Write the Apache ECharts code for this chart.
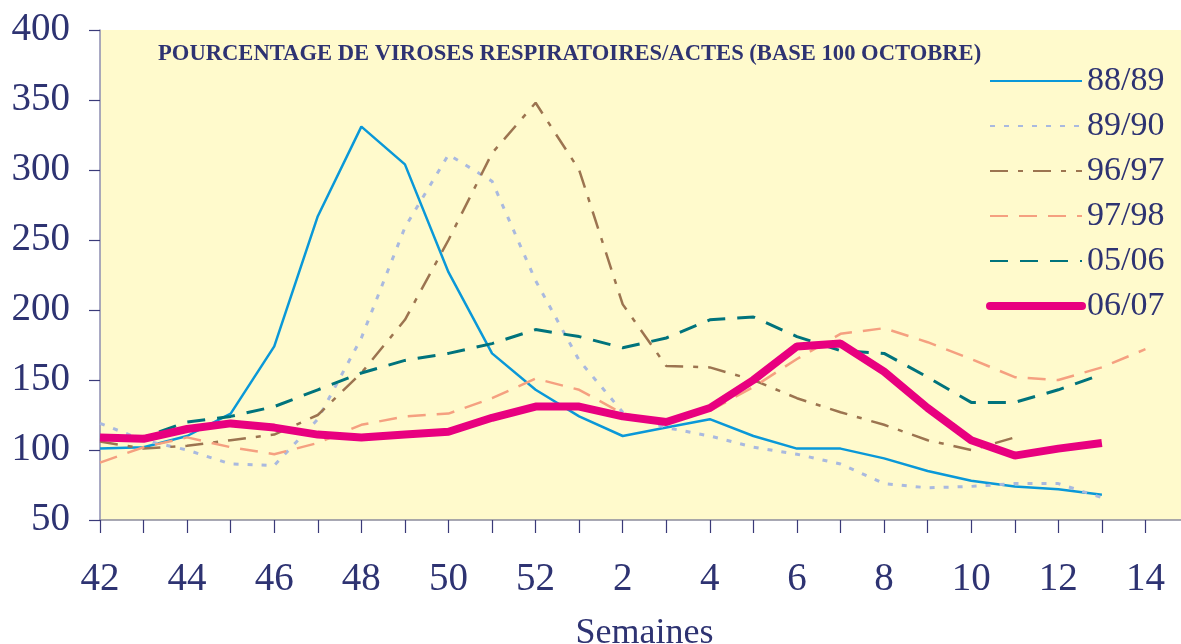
<!DOCTYPE html>
<html>
<head>
<meta charset="utf-8">
<script src="https://cdn.jsdelivr.net/npm/echarts@6/dist/echarts.min.js"></script>
<style>
  html, body { margin: 0; padding: 0; background: #fff; }
  #chart { width: 1181px; height: 644px; }
</style>
</head>
<body>
<div id="chart"></div>
<script>
// semaines 42 -> 52 puis 1 -> 15
var semaines = ['42', '43', '44', '45', '46', '47', '48', '49', '50', '51', '52',
    '1', '2', '3', '4', '5', '6', '7', '8', '9', '10', '11', '12', '13', '14', '15'];

var s8889 = [101, 102, 110, 126, 174, 267, 331, 304, 227, 169, 143, 124, 110, 116, 122, 110, 101, 101, 94, 85, 78, 74, 72, 68];
var s8990 = [119, 107, 100, 90, 89, 122, 180, 259, 311, 292, 221, 164, 127, 116, 110, 102, 97, 90, 76, 73, 74, 76, 76, 66];
var s9697 = [106, 101, 103, 107, 111, 125, 155, 193, 250, 312, 348, 300, 204, 160, 159, 150, 137, 127, 118, 107, 100, 109];
var s9798 = [91, 102, 109, 102, 97, 105, 118, 124, 126, 137, 151, 143, 126, 120, 128, 145, 165, 183, 187, 177, 165, 152, 150, 159, 172];
var s0506 = [108, 109, 120, 124, 131, 143, 155, 164, 169, 176, 186, 181, 173, 180, 193, 195, 181, 171, 169, 152, 134, 134, 143, 154];
var s0607 = [109, 108, 115, 119, 116, 111, 109, 111, 113, 123, 131, 131, 124, 120, 130, 150, 174, 176, 156, 130, 107, 96, 101, 105];

var yTicks = { min: 50, max: 400, interval: 50 };

var txt = '#2e3372';
var serif = 'Liberation Serif';

var myChart = echarts.init(document.getElementById('chart'));

function ligne(nom, data, color, width, dash) {
    return {
        name: nom,
        type: 'line',
        data: data,
        symbol: 'none',
        smooth: false,
        lineStyle: { color: color, width: width, type: dash, cap: 'butt' },
        itemStyle: { color: color }
    };
}

var option = {
    animation: false,
    title: {
        text: 'POURCENTAGE DE VIROSES RESPIRATOIRES/ACTES (BASE 100 OCTOBRE)',
        left: 158,
        top: 43,
        padding: 0,
        textStyle: { color: txt, fontFamily: serif, fontWeight: 'bold', fontSize: 22.6 }
    },
    legend: {
        orient: 'vertical',
        left: 986,
        top: 64,
        padding: 0,
        itemWidth: 92,
        itemHeight: 14,
        itemGap: 11,
        itemStyle: { opacity: 0 },
        textStyle: { color: txt, fontFamily: serif, fontSize: 34, lineHeight: 33 },
        data: ['88/89', '89/90', '96/97', '97/98', '05/06',
            { name: '06/07', lineStyle: { width: 8, cap: 'round' } }]
    },
    grid: {
        left: 100,
        right: -8,
        top: 30,
        bottom: 124,
        outerBoundsMode: 'none',
        containLabel: false,
        show: true,
        backgroundColor: '#fffacc',
        borderWidth: 0
    },
    xAxis: {
        type: 'category',
        boundaryGap: false,
        data: semaines,
        name: 'Semaines',
        nameLocation: 'middle',
        nameGap: 96,
        nameTextStyle: { color: txt, fontFamily: serif, fontSize: 36 },
        axisLine: { lineStyle: { color: '#8c8c9c', width: 1.5 } },
        axisTick: { show: true, interval: 0, length: 13, lineStyle: { color: '#3a3a78', width: 1.2 } },
        axisLabel: { interval: 1, margin: 40, color: txt, fontFamily: serif, fontSize: 39 },
        splitLine: { show: false }
    },
    yAxis: {
        type: 'value',
        min: yTicks.min,
        max: yTicks.max,
        interval: yTicks.interval,
        axisLine: { show: true, lineStyle: { color: '#8c8cb0', width: 1.5 } },
        axisTick: { show: true, length: 11, lineStyle: { color: '#3a3a78', width: 1.2 } },
        axisLabel: { margin: 30, color: txt, fontFamily: serif, fontSize: 39 },
        splitLine: { show: false }
    },
    series: [
        ligne('88/89', s8889, '#0a98d8', 2.5, 'solid'),
        ligne('89/90', s8990, '#a9b9df', 3, [5, 9]),
        ligne('96/97', s9697, '#9c7450', 2.5, [18, 10, 5, 10]),
        ligne('97/98', s9798, '#f5a080', 2.5, [18, 11]),
        ligne('05/06', s0506, '#00737c', 3, [18, 12]),
        ligne('06/07', s0607, '#e8007f', 8, 'solid')
    ]
};

myChart.setOption(option);
</script>
</body>
</html>
